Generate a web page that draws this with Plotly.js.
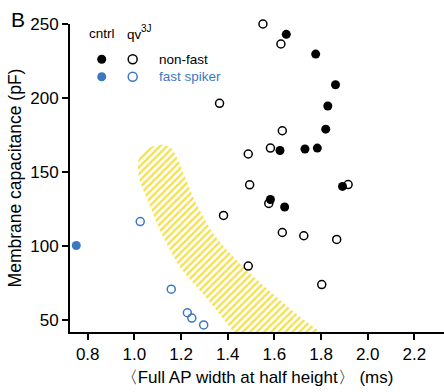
<!DOCTYPE html>
<html>
<head>
<meta charset="utf-8">
<script src="https://cdn.plot.ly/plotly-3.0.1.min.js"></script>
<style>html,body{margin:0;padding:0;background:#fff;}#chart{width:444px;height:392px;}</style>
</head>
<body>
<div id="chart"></div>
<script>
// Control (cntrl), non-fast cells
const ctrlNonFastX = [1.651, 1.777, 1.862, 1.829, 1.820, 1.624, 1.731, 1.784, 1.583, 1.644, 1.892];
const ctrlNonFastY = [243, 229.7, 209, 194.6, 179, 164.6, 165.6, 166.2, 131.5, 126.4, 140.3];
// qv3J, non-fast cells
const qvNonFastX = [1.551, 1.628, 1.365, 1.634, 1.583, 1.488, 1.494, 1.576, 1.382, 1.634, 1.726, 1.488, 1.916, 2.333, 1.867, 1.803];
const qvNonFastY = [250, 236.5, 196.4, 177.9, 166.2, 162.2, 141.4, 128.8, 120.7, 109.2, 107, 86.5, 141.6, 144.3, 104.5, 74];
// Control, fast spiker
const ctrlFastX = [0.751];
const ctrlFastY = [100.4];
// qv3J, fast spiker
const qvFastX = [1.025, 1.158, 1.227, 1.246, 1.297];
const qvFastY = [116.6, 70.9, 55, 51.4, 46.8];
// Hatched separation band outline
const bandX = [1.425, 1.315, 1.194, 1.115, 1.056, 1.022, 1.015, 1.03, 1.065, 1.12, 1.158, 1.178, 1.194, 1.222, 1.258, 1.337, 1.465, 1.623, 1.72, 1.80];
const bandY = [42, 63.7, 86.2, 108.8, 131.3, 144.8, 156, 162, 166.5, 168.4, 166.2, 161, 156, 144.8, 131.3, 108.8, 86.2, 63.7, 51, 42];
// Axis ticks
const xTicks = [0.8, 1.0, 1.2, 1.4, 1.6, 1.8, 2.0, 2.2];
const xTickText = ['0.8', '1.0', '1.2', '1.4', '1.6', '1.8', '2.0', '2.2'];
const yTicks = [50, 100, 150, 200, 250];

const BLUE = '#3b78c4';
const FONT = 'Liberation Sans, Arial, sans-serif';

const traces = [
  {x: bandX, y: bandY, type: 'scatter', mode: 'lines', fill: 'toself',
   line: {width: 0, shape: 'spline', smoothing: 0.8, color: 'rgba(0,0,0,0)'},
   fillcolor: 'rgba(0,0,0,0)',
   fillpattern: {shape: '/', fgcolor: '#f5e046', bgcolor: 'rgba(0,0,0,0)', size: 5, solidity: 0.45, fgopacity: 1},
   hoverinfo: 'skip', showlegend: false},
  {x: ctrlNonFastX, y: ctrlNonFastY, type: 'scatter', mode: 'markers', cliponaxis: false,
   marker: {symbol: 'circle', size: 9, color: '#000'}, showlegend: false},
  {x: qvNonFastX, y: qvNonFastY, type: 'scatter', mode: 'markers', cliponaxis: false,
   marker: {symbol: 'circle-open', size: 8, color: '#000', line: {width: 1.5}}, showlegend: false},
  {x: ctrlFastX, y: ctrlFastY, type: 'scatter', mode: 'markers', cliponaxis: false,
   marker: {symbol: 'circle', size: 9, color: BLUE}, showlegend: false},
  {x: qvFastX, y: qvFastY, type: 'scatter', mode: 'markers', cliponaxis: false,
   marker: {symbol: 'circle-open', size: 8, color: BLUE, line: {width: 1.5}}, showlegend: false}
];

function legendDot(px, py, color, filled) {
  return {type: 'circle', xref: 'paper', yref: 'paper', xsizemode: 'pixel', ysizemode: 'pixel',
    xanchor: px, yanchor: py, x0: -4.5, x1: 4.5, y0: -4.5, y1: 4.5,
    fillcolor: filled ? color : 'rgba(0,0,0,0)', line: {color: color, width: filled ? 0 : 1.5}};
}

const layout = {
  width: 444, height: 392,
  margin: {l: 70, r: 0, t: 24, b: 60},
  paper_bgcolor: '#fff', plot_bgcolor: '#fff',
  font: {family: FONT, color: '#000', size: 17},
  showlegend: false,
  xaxis: {
    range: [0.724, 2.327], tickvals: xTicks, ticktext: xTickText,
    showgrid: false, zeroline: false, showline: true, linecolor: '#000', linewidth: 2,
    ticks: 'outside', ticklen: 6, tickwidth: 2, tickcolor: '#000',
    tickfont: {size: 17},
    title: {text: '〈Full AP width at half height〉 (ms)', font: {size: 17}, standoff: 8}
  },
  yaxis: {
    range: [42, 250], tickvals: yTicks,
    showgrid: false, zeroline: false, showline: true, linecolor: '#000', linewidth: 2,
    ticks: 'outside', ticklen: 6, tickwidth: 2, tickcolor: '#000',
    tickfont: {size: 17},
    title: {text: 'Membrane capacitance (pF)', font: {size: 17.5}, standoff: 4}
  },
  shapes: [
    legendDot(0.0848, 0.8854, '#000', true),
    legendDot(0.1676, 0.8854, '#000', false),
    legendDot(0.0848, 0.8289, BLUE, true),
    legendDot(0.1676, 0.8289, BLUE, false)
  ],
  annotations: [
    {text: 'B', xref: 'paper', yref: 'paper', x: -0.162, y: 1.013, xanchor: 'left', yanchor: 'middle',
     showarrow: false, font: {size: 21, color: '#000'}},
    {text: 'cntrl', xref: 'paper', yref: 'paper', x: 0.0848, y: 0.968, xanchor: 'center', yanchor: 'middle',
     showarrow: false, font: {size: 13.5, color: '#000'}},
    {text: 'qv', xref: 'paper', yref: 'paper', x: 0.147, y: 0.966, xanchor: 'left', yanchor: 'middle',
     showarrow: false, font: {size: 13.5, color: '#000'}},
    {text: '3J', xref: 'paper', yref: 'paper', x: 0.1855, y: 0.985, xanchor: 'left', yanchor: 'middle',
     showarrow: false, font: {size: 10, color: '#000'}},
    {text: 'non-fast', xref: 'paper', yref: 'paper', x: 0.2318, y: 0.8854, xanchor: 'left', yanchor: 'middle',
     showarrow: false, font: {size: 13.5, color: '#000'}},
    {text: 'fast spiker', xref: 'paper', yref: 'paper', x: 0.2318, y: 0.8289, xanchor: 'left', yanchor: 'middle',
     showarrow: false, font: {size: 13.5, color: BLUE}}
  ]
};

Plotly.newPlot('chart', traces, layout, {staticPlot: true, displayModeBar: false});
</script>
</body>
</html>
